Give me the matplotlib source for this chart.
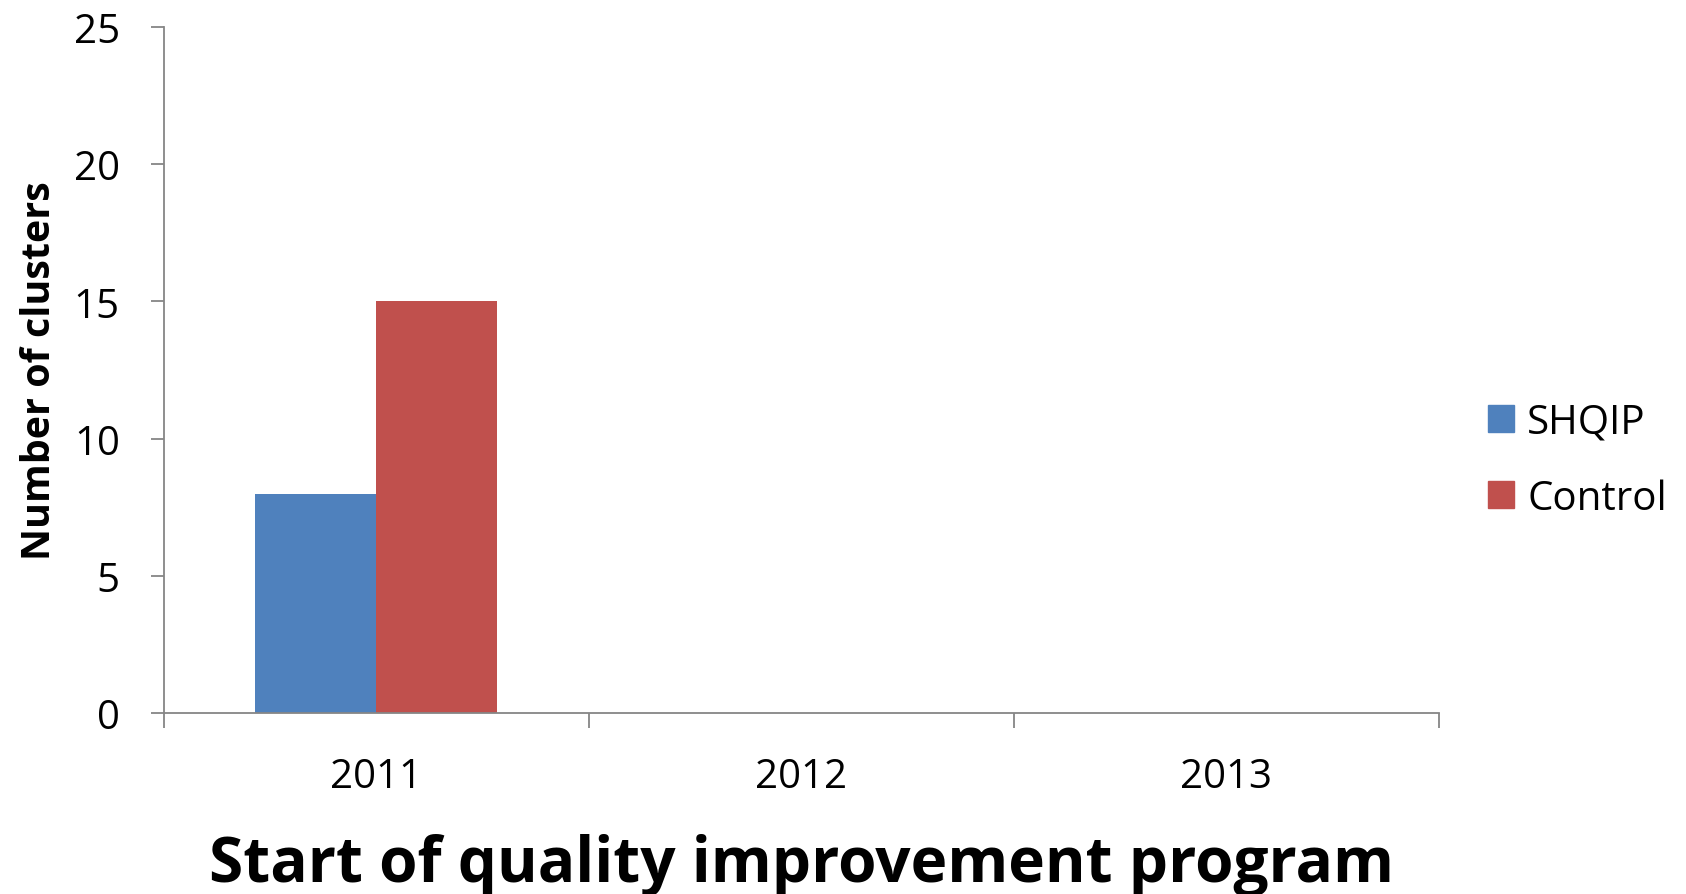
import numpy as np
import matplotlib
matplotlib.use("Agg")
import matplotlib.pyplot as plt
from matplotlib.patches import Patch

plt.rcParams['font.family'] = ['Open Sans', 'DejaVu Sans']

years = ['2011', '2012', '2013']
shqip = [8, 0, 0]
control = [15, 0, 0]
series_names = ['SHQIP', 'Control']
colors = ['#4F81BD', '#C0504D']
yticks = [0, 5, 10, 15, 20, 25]

fig = plt.figure(figsize=(16.86, 8.95), dpi=100)
ax = fig.add_axes([0.097, 0.2022, 0.7565, 0.7665])

x = np.arange(len(years))
w = 0.285
ax.bar(x - w / 2, shqip, width=w, color=colors[0], label=series_names[0])
ax.bar(x + w / 2, control, width=w, color=colors[1], label=series_names[1])

ax.set_xlim(-0.5, len(years) - 0.5)
ax.set_ylim(0, 25)
ax.set_yticks(yticks)
ax.set_xticks(x)
ax.set_xticklabels(years)
ax.set_xticks(np.arange(len(years) + 1) - 0.5, minor=True)

grey = '#868686'
for s in ['top', 'right']:
    ax.spines[s].set_visible(False)
for s in ['left', 'bottom']:
    ax.spines[s].set_color(grey)
    ax.spines[s].set_linewidth(1.3)

ax.tick_params(axis='y', length=9.5, width=1.3, color=grey, labelsize=29, pad=22)
ax.tick_params(axis='x', which='major', length=0, labelsize=29, pad=31)
ax.tick_params(axis='x', which='minor', length=11, width=1.3, color=grey)

ax.set_ylabel('Number of clusters', fontsize=28.4, fontweight='bold')
ax.yaxis.set_label_coords(-0.097, 0.5)
ax.yaxis.label.set_va('center')

# x axis title sits low, its descenders run off the bottom like the original
fig.text(0.4755, 1 - 882 / 895, 'Start of quality improvement program',
         fontsize=44.7, fontweight='bold', ha='center', va='baseline')

handles = [Patch(color=c) for c in colors]
fig.legend(handles, series_names, loc='center left', bbox_to_anchor=(0.8826, 0.4845),
           frameon=False, fontsize=29, handlelength=0.65, handleheight=0.65,
           handletextpad=0.32, labelspacing=0.88, borderpad=0, borderaxespad=0)

fig.savefig('out.png', dpi=100)
